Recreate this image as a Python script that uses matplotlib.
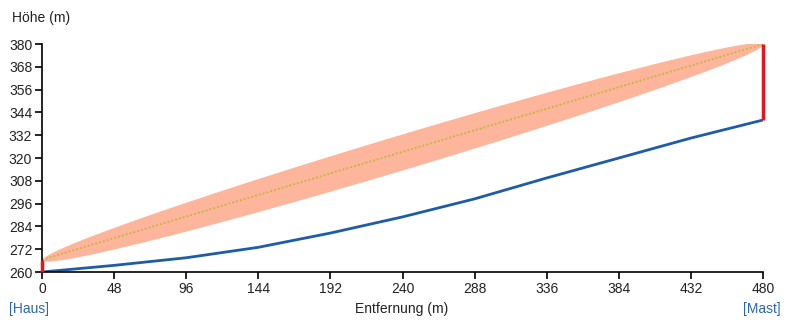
"""Höhenprofil der Funkstrecke Haus -> Mast mit Fresnelzone"""

import matplotlib.pyplot as plt
import numpy

plt.rcParams['font.family'] = ['Liberation Sans', 'DejaVu Sans']

# Geländeprofil (Entfernung in m, Höhe in m)
DIST = [0, 48, 96, 144, 192, 240, 288, 336, 384, 432, 480]
GROUND = [260, 263.5, 267.5, 273, 280.5, 289, 298.5, 309.5, 320, 330.5, 340]

# Antennenhöhen an beiden Enden
ANT_START = 266.5
ANT_END = 380
# größter Radius der Fresnelzone in Streckenmitte (m)
FRESNEL_MAX = 9.5

X_TICKS = list(range(0, 481, 48))
Y_TICKS = list(range(260, 381, 12))

TEXT_COLOR = '#222222'
LINK_COLOR = '#2a66b0'

fig = plt.figure(figsize=(7.88, 3.26), dpi=100)
ax = fig.add_axes([0.0533, 0.1656, 0.915, 0.6994])

total = DIST[-1]
dd = numpy.linspace(0, total, 400)
los = ANT_START + (ANT_END - ANT_START) * dd / total
radius = FRESNEL_MAX * numpy.sqrt(4 * dd * (total - dd) / total**2)

ax.fill_between(dd, los - radius, los + radius, color='#fdb59c', linewidth=0)
ax.plot([0, total], [ANT_START, ANT_END], linestyle=(0, (1, 1.2)),
        color='#c4b43c', linewidth=1.3)
ax.plot(DIST, GROUND, color='#1f5ca8', linewidth=2)
ax.plot([0, 0], [GROUND[0], ANT_START], color='#e8141c', linewidth=2.5,
        solid_capstyle='butt', clip_on=False, zorder=4)
ax.plot([total, total], [GROUND[-1], ANT_END], color='#e8141c',
        linewidth=2.5, solid_capstyle='butt', clip_on=False, zorder=4)

ax.set_xlim(0, 480)
ax.set_ylim(260, 380)
ax.set_xticks(X_TICKS)
ax.set_yticks(Y_TICKS)
for side in ['top', 'right']:
    ax.spines[side].set_visible(False)
for side in ['left', 'bottom']:
    ax.spines[side].set_linewidth(1.2)
ax.tick_params(direction='out', length=5, width=1.2, labelsize=10,
               labelcolor=TEXT_COLOR, pad=2)

fig.text(12 / 788, 1 - 18 / 326, 'Höhe (m)', fontsize=10, color=TEXT_COLOR,
         va='center', ha='left')
fig.text(402 / 788, 1 - 309 / 326, 'Entfernung (m)', fontsize=10,
         color=TEXT_COLOR, va='center', ha='center')
fig.text(9 / 788, 1 - 309 / 326, '[Haus]', fontsize=10, color=LINK_COLOR,
         va='center', ha='left')
fig.text(781 / 788, 1 - 309 / 326, '[Mast]', fontsize=10, color=LINK_COLOR,
         va='center', ha='right')

fig.savefig('out.png', dpi=100)
